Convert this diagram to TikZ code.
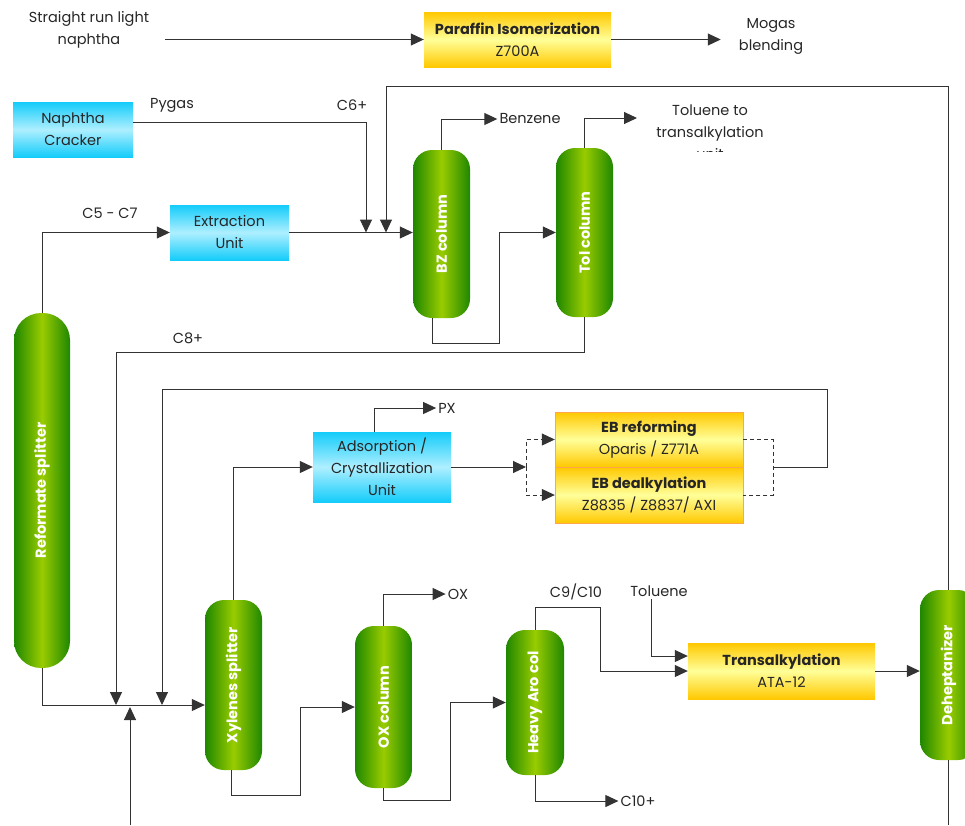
\documentclass[tikz,border=0pt]{standalone}
\usepackage{fontspec}
\setmainfont{Poppins}
\usetikzlibrary{arrows.meta}
\definecolor{colDark}{HTML}{1F8700}
\definecolor{colLight}{HTML}{99CC00}
\definecolor{boxBlue}{HTML}{14CCFA}
\definecolor{boxPale}{HTML}{AEEFFF}
\definecolor{boxGold}{HTML}{FFC800}
\definecolor{boxPaleY}{HTML}{FFFF99}
\definecolor{pipe}{HTML}{333333}

\begin{document}
\begin{tikzpicture}[x=1pt, y=-1pt, font=\fontsize{14.5}{22}\selectfont,
  pipeline/.style={draw=pipe, line width=1pt},
  flow/.style={pipeline, -{Triangle[length=13pt,width=12pt]}},
  dashline/.style={pipeline, dash pattern=on 4pt off 3pt},
  dashflow/.style={flow, dash pattern=on 4pt off 3pt},
  column/.style={rectangle, rounded corners=19pt, minimum width=57pt, inner sep=0pt,
    text=white, font=\fontsize{14.5}{16}\selectfont\bfseries,
    left color=colDark, right color=colDark, middle color=colLight},
  unitbox/.style={rectangle, align=center, inner sep=0pt, text=black!85,
    top color=boxBlue, bottom color=boxBlue, middle color=boxPale},
  reactor/.style={rectangle, align=center, inner sep=0pt, text=black!85,
    top color=boxGold, bottom color=boxGold, middle color=boxPaleY},
  tag/.style={align=center, text=black!85, inner sep=2pt}]
\useasboundingbox (0,0) rectangle (965,825);

\node[tag] (srln) at (89,30) {Straight run light\\naphtha};
\node[reactor, minimum width=187pt, minimum height=55pt] (paraffin) at (517.5,39.5) {\textbf{Paraffin Isomerization}\\Z700A};
\node[tag] (mogas) at (771,36) {Mogas\\blending};

\node[unitbox, minimum width=120pt, minimum height=55pt] (cracker) at (73,129.5) {Naphtha\\Cracker};
\node[unitbox, minimum width=119pt, minimum height=55pt] (extract) at (229.5,232.5) {Extraction\\Unit};
\node[unitbox, minimum width=138pt, minimum height=70pt] (adsorb) at (382,467) {Adsorption /\\Crystallization\\Unit};

\node[reactor, draw=orange!70, minimum width=188pt, minimum height=55pt] (ebref) at (649,439.5) {\textbf{EB reforming}\\Oparis / Z771A};
\node[reactor, draw=orange!70, minimum width=188pt, minimum height=56pt] (ebdeal) at (649,495) {\textbf{EB dealkylation}\\Z8835 / Z8837/ AXI};
\node[reactor, minimum width=187pt, minimum height=56pt] (trans) at (781.5,671) {\textbf{Transalkylation}\\ATA-12};

\node[column, minimum height=168pt] (bz) at (441.5,234) {\rotatebox{90}{BZ column}};
\node[column, minimum height=169pt] (tol) at (584.5,232.5) {\rotatebox{90}{Tol column}};
\node[column, minimum width=56pt, minimum height=355pt, rounded corners=27pt] (ref) at (42,490.5) {\rotatebox{90}{Reformate splitter}};
\node[column, minimum height=170pt] (xyl) at (233.5,685) {\rotatebox{90}{Xylenes splitter}};
\node[column, minimum height=162pt] (ox) at (383.5,707) {\rotatebox{90}{OX column}};
\node[column, minimum width=58pt, minimum height=145pt] (hac) at (535,702.5) {\rotatebox{90}{Heavy Aro col}};
\node[column, minimum height=170pt] (dhp) at (948.5,675) {\rotatebox{90}{Deheptanizer}};

\node[tag] (pygas) at (172,105) {Pygas};
\node[tag] (c6) at (352,105) {C6+};
\node[tag] (c57) at (110,213) {C5 - C7};
\node[tag] (c8) at (188,338) {C8+};
\node[tag] (benzene) at (530,119) {Benzene};
\begin{scope}
  \clip (600,95) rectangle (820,151);
  \node[tag] (toltext) at (710,132) {Toluene to\\transalkylation\\unit};
\end{scope}
\node[tag] (px) at (447,408) {PX};
\node[tag] (oxlbl) at (458,594) {OX};
\node[tag] (c910) at (576,592) {C9/C10};
\node[tag] (tolu) at (659,591) {Toluene};
\node[tag] (c10) at (638,801) {C10+};

\coordinate (c6in) at (366,232.5);
\coordinate (recyc) at (386,232.5);
\coordinate (toltip) at (637,118);
\coordinate (xylin) at ([yshift=-20pt]xyl.west);
\coordinate (c8in) at (116,705);
\coordinate (recin) at (162,705);
\coordinate (fresh) at (130,825);
\coordinate (freshin) at (130,707);
\coordinate (split) at (526,467);
\coordinate (ebout) at (773,467);

\draw[flow] ([xshift=14pt]srln.east |- paraffin.west) -- (paraffin.west);
\draw[flow] (paraffin.east) -- ([xshift=-16pt]paraffin.east -| mogas.west);
\draw[flow] (dhp.north) -- (dhp.north |- 0,86) -| (recyc);
\draw[flow] ([yshift=7pt]cracker.east) -| (c6in);
\draw[flow] (ref.north) |- (extract.west);
\draw[flow] (extract.east) -- (extract.east -| bz.west);
\draw[flow] (bz.north) |- (benzene.west);
\draw[flow] ([xshift=-9pt]bz.south) |- (499,343) |- (tol.west);
\draw[flow] (tol.north) |- (toltip);
\draw[flow] (tol.south) |- (c8in |- 0,352) -- (c8in);
\draw[flow] (ref.south) |- (xylin);
\draw[flow] (fresh) -- (freshin);
\draw[flow] (xyl.north) |- (adsorb.west);
\draw[flow] ([xshift=-8pt]adsorb.north) |- (px.west);
\draw[flow] (adsorb.east) -- (split);
\draw[dashflow] (split) |- (ebref.west);
\draw[dashflow] (split) |- (ebdeal.west);
\draw[dashline] (ebref.east) -| (ebout) |- (ebdeal.east);
\draw[flow] (ebout) -- (827,467) |- (recin |- 0,389) -- (recin);
\draw[flow] ([xshift=-2pt]xyl.south) |- (300,795) |- (ox.west);
\draw[flow] (ox.north) |- (oxlbl.west);
\draw[flow] (ox.south) |- (450,800) |- (hac.west);
\draw[flow] (hac.north) |- (600,607) |- (trans.west);
\draw[flow] ([xshift=-8pt]tolu.south) |- ([yshift=15pt]trans.west);
\draw[flow] (hac.south) |- (c10.west);
\draw[flow] (trans.east) -- (trans.east -| dhp.west);
\draw[pipeline] (dhp.south) -- (dhp.south |- 0,825);
\end{tikzpicture}
\end{document}
